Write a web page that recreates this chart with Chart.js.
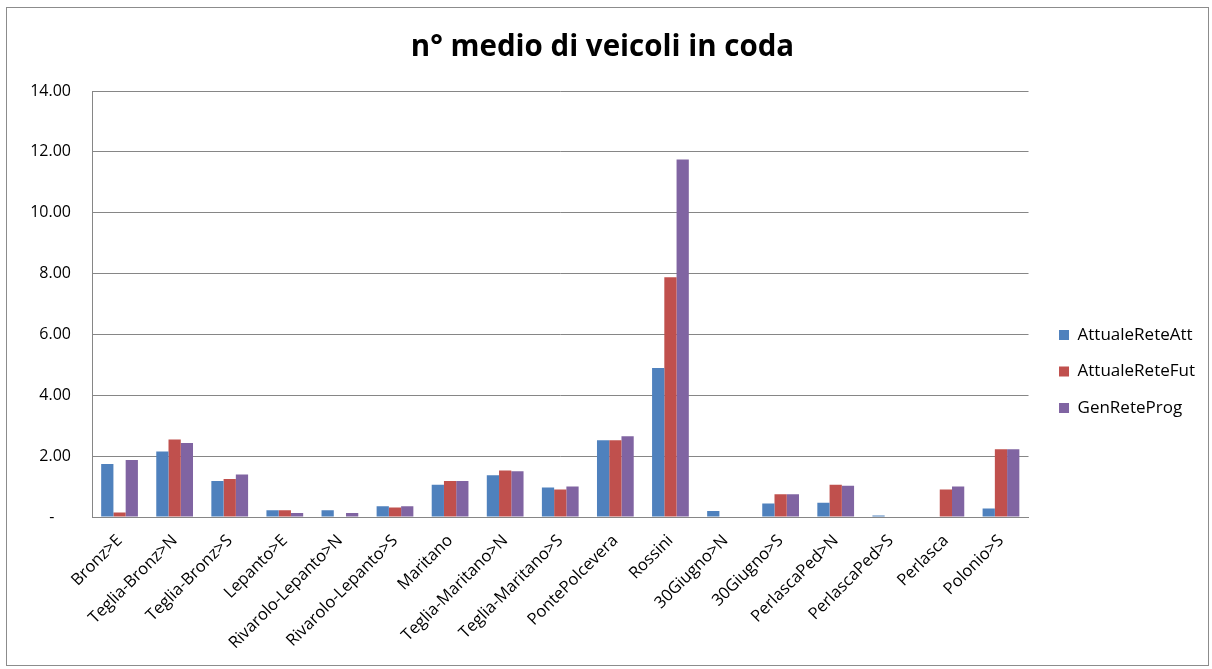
<!DOCTYPE html>
<html>
<head>
<meta charset="utf-8">
<script src="https://cdn.jsdelivr.net/npm/chart.js@4"></script>
<style>
  html, body { margin: 0; padding: 0; background: #fff; }
  #wrap { position: relative; width: 1212px; height: 669px; }
  #frame { position: absolute; left: 6px; top: 7px; width: 1201px; height: 657px; border: 1px solid #8c8c8c; pointer-events: none; }
</style>
</head>
<body>
<div id="wrap">
  <canvas id="c" width="1212" height="669"></canvas>
  <div id="frame"></div>
</div>
<script>
const categories = ["Bronz>E","Teglia-Bronz>N","Teglia-Bronz>S","Lepanto>E","Rivarolo-Lepanto>N","Rivarolo-Lepanto>S","Maritano","Teglia-Maritano>N","Teglia-Maritano>S","PontePolcevera","Rossini","30Giugno>N","30Giugno>S","PerlascaPed>N","PerlascaPed>S","Perlasca","Polonio>S"];
const attualeReteAtt = [1.74, 2.15, 1.18, 0.22, 0.22, 0.35, 1.06, 1.37, 0.97, 2.52, 4.90, 0.20, 0.44, 0.47, 0.05, 0.00, 0.28];
const attualeReteFut = [0.15, 2.55, 1.25, 0.22, 0.00, 0.31, 1.18, 1.53, 0.90, 2.52, 7.88, 0.00, 0.75, 1.06, 0.00, 0.90, 2.23];
const genReteProg    = [1.87, 2.43, 1.40, 0.13, 0.13, 0.35, 1.18, 1.50, 1.00, 2.65, 11.75, 0.00, 0.75, 1.03, 0.00, 1.00, 2.23];
const seriesNames = ["AttualeReteAtt", "AttualeReteFut", "GenReteProg"];
const chartTitle = "n° medio di veicoli in coda";

const FONT = "'Open Sans', 'DejaVu Sans', sans-serif";

new Chart(document.getElementById('c'), {
  type: 'bar',
  data: {
    labels: categories,
    datasets: [
      { label: seriesNames[0], data: attualeReteAtt, backgroundColor: '#4F81BD' },
      { label: seriesNames[1], data: attualeReteFut, backgroundColor: '#C0504D' },
      { label: seriesNames[2], data: genReteProg, backgroundColor: '#8064A2' }
    ]
  },
  options: {
    responsive: false,
    animation: false,
    devicePixelRatio: 1,
    datasets: { bar: { barPercentage: 1, categoryPercentage: 0.667, borderWidth: 0 } },
    layout: { padding: { left: 0, right: 7, top: 0, bottom: 0 } },
    plugins: {
      title: {
        display: true,
        text: chartTitle,
        color: '#000',
        font: { family: FONT, size: 29.5, weight: 'bold' },
        padding: { top: 30, bottom: 25.6 }
      },
      legend: {
        display: true,
        position: 'right',
        align: 'center',
        title: { display: true, text: ' ', font: { size: 10 }, padding: 31 },
        labels: {
          boxWidth: 10, boxHeight: 10,
          padding: 19.5,
          color: '#000',
          font: { family: FONT, size: 17 }
        }
      },
      tooltip: { enabled: false }
    },
    scales: {
      x: {
        grid: { display: false, drawTicks: false },
        border: { display: true, color: '#868686', width: 1 },
        ticks: {
          color: '#000',
          font: { family: FONT, size: 16.5 },
          minRotation: 45, maxRotation: 45,
          autoSkip: false,
          padding: 14
        },
        afterFit: (a) => { a.height = 152; }
      },
      y: {
        min: 0, max: 14,
        ticks: {
          stepSize: 2,
          color: '#000',
          font: { family: FONT, size: 16 },
          padding: 21,
          callback: (v) => v === 0 ? '-    ' : v.toFixed(2)
        },
        grid: { color: '#868686', lineWidth: 1, drawTicks: false },
        border: { display: true, color: '#868686', width: 1 },
        afterFit: (a) => { a.width = 92; }
      },
      pad: {
        type: 'linear',
        position: 'right',
        display: true,
        grid: { display: false, drawTicks: false },
        border: { display: false },
        ticks: { display: false },
        afterFit: (a) => { a.width = 11; }
      }
    }
  }
});
</script>
</body>
</html>
